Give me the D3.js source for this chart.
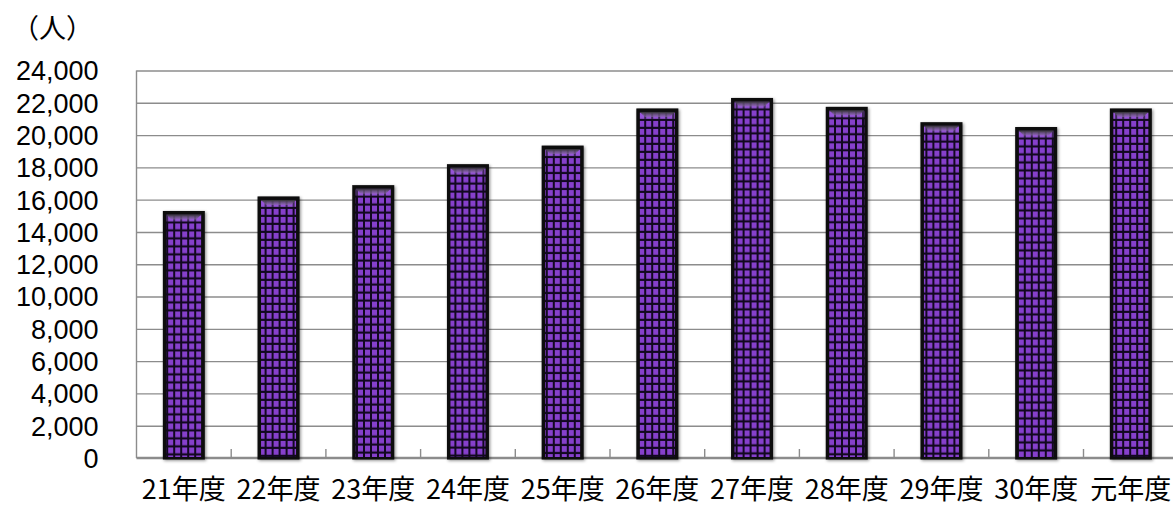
<!DOCTYPE html>
<html>
<head>
<meta charset="utf-8">
<script src="https://cdn.jsdelivr.net/npm/d3@7"></script>
<style>
  html, body { margin: 0; padding: 0; background: #fff; overflow: hidden; }
  svg { display: block; font-family: "Noto Sans CJK JP", "Noto Sans", sans-serif; }
</style>
</head>
<body>
<svg id="chart" width="1173" height="507"></svg>
<script>
// ---- data ----
const categories = ["21年度", "22年度", "23年度", "24年度", "25年度", "26年度", "27年度", "28年度", "29年度", "30年度", "元年度"];
const values = [15300, 16200, 16900, 18200, 19350, 21650, 22300, 21750, 20800, 20500, 21650];
const yTicks = [0, 2000, 4000, 6000, 8000, 10000, 12000, 14000, 16000, 18000, 20000, 22000, 24000];
const unitLabel = "（人）";

// ---- layout ----
const W = 1173, H = 507;
const plot = { left: 136.5, top: 70.5, bottom: 458, bandW: 94.7 };
const plotRight = plot.left + plot.bandW * categories.length;

const svg = d3.select("#chart");
const defs = svg.append("defs");

const x = d3.scaleBand().domain(categories).range([plot.left, plotRight]).paddingInner(0).paddingOuter(0);
const y = d3.scaleLinear().domain([0, 24000]).range([plot.bottom, plot.top]);

// shadow filter
const f = defs.append("filter").attr("id", "shadow").attr("x", "-30%").attr("y", "-10%").attr("width", "160%").attr("height", "120%");
f.append("feDropShadow").attr("dx", 1.2).attr("dy", 1.2).attr("stdDeviation", 1.6)
  .attr("flood-color", "#000").attr("flood-opacity", 0.45);

// bevel gradient
const g1 = defs.append("linearGradient").attr("id", "bevel").attr("x1", 0).attr("y1", 0).attr("x2", 0).attr("y2", 1);
g1.append("stop").attr("offset", "0%").attr("stop-color", "#333").attr("stop-opacity", 1);
g1.append("stop").attr("offset", "100%").attr("stop-color", "#8a6aa8").attr("stop-opacity", 0.6);

// gridlines + y labels
const yAxis = d3.axisLeft(y).tickValues(yTicks).tickFormat(d3.format(","))
  .tickSize(-(W - plot.left + 10)).tickPadding(38);
const gy = svg.append("g").attr("transform", `translate(${plot.left},0)`).call(yAxis);
gy.select(".domain").remove();
gy.selectAll(".tick line").attr("stroke", "#8c8c8c").attr("stroke-width", 1.4);
gy.selectAll(".tick text").attr("fill", "#000").style("font-size", "27px")
  .attr("dy", "0.35em");

// left axis line
svg.append("line").attr("x1", plot.left).attr("x2", plot.left)
  .attr("y1", plot.top).attr("y2", plot.bottom)
  .attr("stroke", "#8c8c8c").attr("stroke-width", 1.4);

// bottom axis line
svg.append("line").attr("x1", plot.left).attr("x2", W + 10)
  .attr("y1", plot.bottom - 0.5).attr("y2", plot.bottom - 0.5)
  .attr("stroke", "#8c8c8c").attr("stroke-width", 1.6);

// category boundary ticks (pointing up)
svg.append("g").selectAll("line").data(categories.slice(1)).join("line")
  .attr("x1", d => x(d)).attr("x2", d => x(d))
  .attr("y1", plot.bottom - 9).attr("y2", plot.bottom)
  .attr("stroke", "#8c8c8c").attr("stroke-width", 1.4);

// bars
const barW = 42, inset = 3.5;
const pitchX = (barW - 2 * inset) / 5, pitchY = 8;

const pats = defs.selectAll("pattern").data(categories).join("pattern")
  .attr("id", (d, i) => "pat" + i)
  .attr("patternUnits", "userSpaceOnUse")
  .attr("x", d => x(d) + x.bandwidth() / 2 - barW / 2 + inset - 1)
  .attr("y", (d, i) => y(values[i]) + inset)
  .attr("width", pitchX).attr("height", pitchY);
pats.append("rect").attr("width", pitchX).attr("height", pitchY).attr("fill", "#120820");
pats.append("rect").attr("x", 1).attr("y", 1).attr("width", pitchX - 2).attr("height", pitchY - 2.2).attr("fill", "#8640cc");

const bars = svg.append("g").selectAll("g.bar").data(categories).join("g")
  .attr("class", "bar")
  .attr("transform", d => `translate(${x(d) + x.bandwidth() / 2 - barW / 2},0)`);

bars.append("rect")
  .attr("x", 0).attr("width", barW)
  .attr("y", (d, i) => y(values[i]))
  .attr("height", (d, i) => y(0) - y(values[i]) + 1.5)
  .attr("fill", "#0a0a0a")
  .attr("filter", "url(#shadow)");

bars.append("rect")
  .attr("x", inset).attr("width", barW - 2 * inset)
  .attr("y", (d, i) => y(values[i]) + inset)
  .attr("height", (d, i) => y(0) - y(values[i]) - inset - 1)
  .attr("fill", (d, i) => `url(#pat${i})`);

// lighter top row
bars.append("rect")
  .attr("x", inset).attr("width", barW - 2 * inset)
  .attr("y", (d, i) => y(values[i]) + inset)
  .attr("height", 7)
  .attr("fill", "#c890ff").attr("opacity", 0.25);

// top bevel
bars.append("path")
  .attr("d", (d, i) => {
    const t = y(values[i]) + inset;
    return `M${inset},${t} L${barW - inset},${t} L${barW - inset - 5},${t + 5} L${inset + 5},${t + 5} Z`;
  })
  .attr("fill", "url(#bevel)");

// x labels
svg.append("g").selectAll("text").data(categories).join("text")
  .attr("x", d => x(d) + x.bandwidth() / 2)
  .attr("y", 499)
  .attr("text-anchor", "middle")
  .style("font-size", "27px")
  .attr("fill", "#000")
  .text(d => d);

// unit label
svg.append("text").attr("x", 12).attr("y", 38)
  .style("font-size", "27px").attr("fill", "#000").text(unitLabel);
</script>
</body>
</html>
